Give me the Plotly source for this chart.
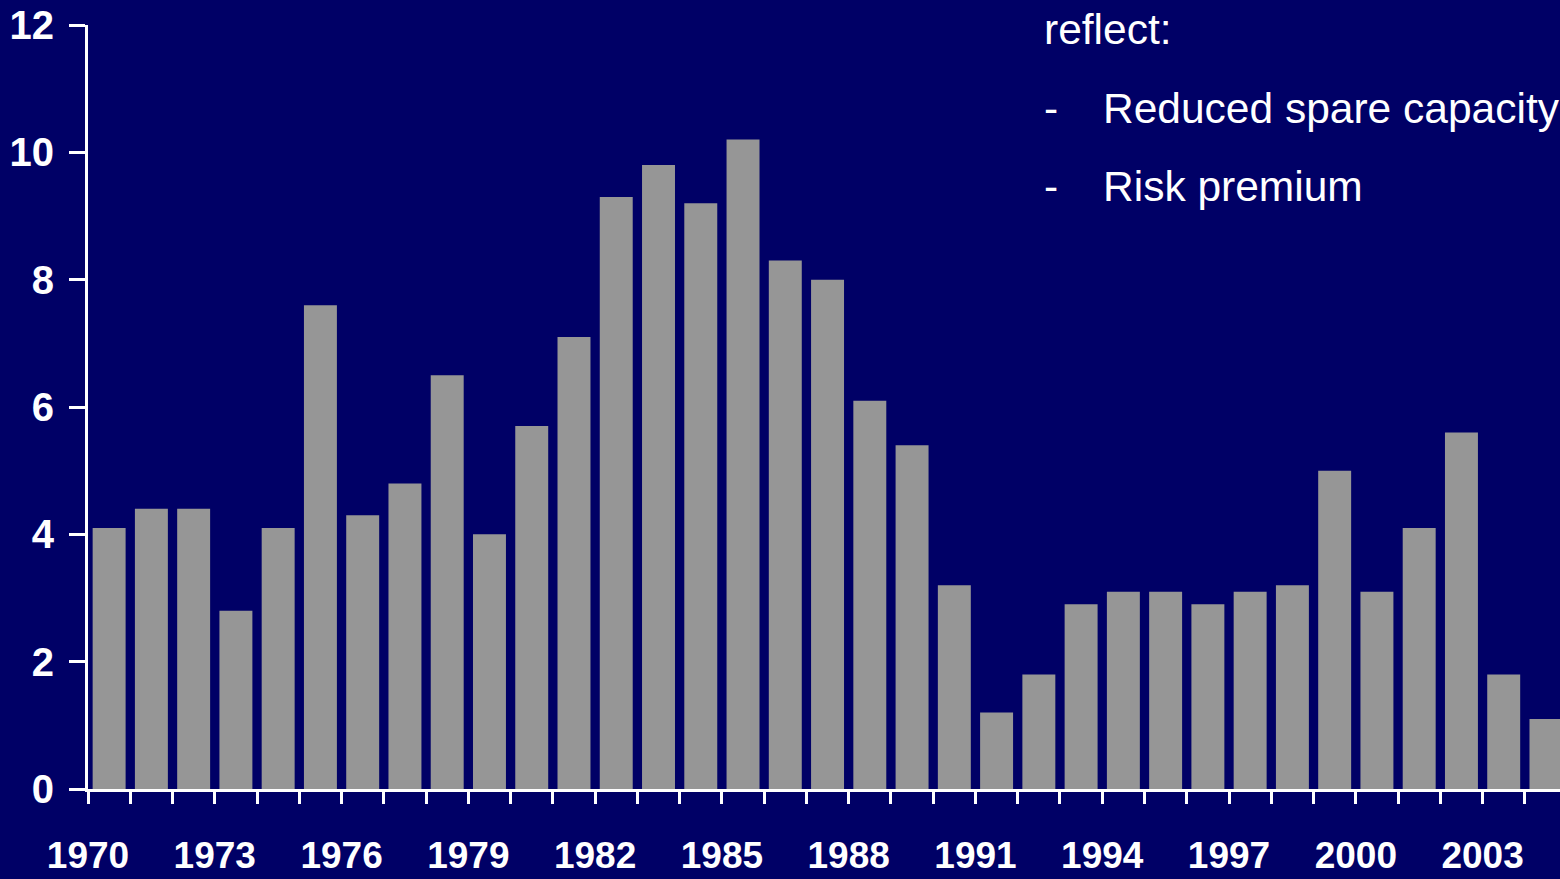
import plotly.graph_objects as go

years = list(range(1970, 2005))
values = [4.1, 4.4, 4.4, 2.8, 4.1, 7.6, 4.3, 4.8, 6.5, 4.0,
          5.7, 7.1, 9.3, 9.8, 9.2, 10.2, 8.3, 8.0, 6.1, 5.4,
          3.2, 1.2, 1.8, 2.9, 3.1, 3.1, 2.9, 3.1, 3.2, 5.0,
          3.1, 4.1, 5.6, 1.8, 1.1]
label_years = [1970, 1973, 1976, 1979, 1982, 1985, 1988, 1991, 1994, 1997, 2000, 2003]
y_ticks = [0, 2, 4, 6, 8, 10, 12]
note_lines = ["reflect:", "Reduced spare capacity", "Risk premium"]

BG = "#000066"
BAR = "#969696"
W, H = 1560, 879
L, R, T, B = 88, 0, 25, 90
pw, ph = W - L - R, H - T - B

def px_x(x):
    return (x - L) / pw

def px_y(y):
    return (H - B - y) / ph

tickvals = [y - 0.5 for y in years] + [years[-1] + 0.5]
ticktext = [str(y) if y in label_years else "" for y in years] + [""]

fig = go.Figure(go.Bar(x=years, y=values, marker=dict(color=BAR, line=dict(width=0)),
                       width=0.78))

fig.update_layout(
    width=W, height=H,
    paper_bgcolor=BG, plot_bgcolor=BG,
    margin=dict(l=L, r=R, t=T, b=B),
    showlegend=False,
    font=dict(family="Arial, Liberation Sans, sans-serif", color="white"),
)
fig.update_xaxes(
    automargin=False,
    range=[1969.5, 1969.5 + pw / 42.26],
    tickmode="array", tickvals=tickvals, ticktext=ticktext,
    ticks="outside", ticklen=12, tickwidth=2.5, tickcolor="white",
    showline=True, linecolor="white", linewidth=3,
    showgrid=False, zeroline=False,
    tickfont=dict(size=37, color="white", family="Arial, Liberation Sans, sans-serif", weight="bold"),
    ticklabelstandoff=20,
)
fig.update_yaxes(
    automargin=False,
    range=[0, 12], tickmode="array", tickvals=y_ticks,
    ticks="outside", ticklen=16, tickwidth=3, tickcolor="white",
    showline=True, linecolor="white", linewidth=3,
    showgrid=False, zeroline=False,
    tickfont=dict(size=40, color="white", family="Arial, Liberation Sans, sans-serif", weight="bold"),
    ticklabelstandoff=7,
)

centers = [30, 108, 186]
for i, (txt, cy) in enumerate(zip(note_lines, centers)):
    x0 = 1042 if i == 0 else 1101
    fig.add_annotation(x=px_x(x0), y=px_y(cy), xref="paper", yref="paper",
                       text=txt, showarrow=False, xanchor="left", yanchor="middle",
                       font=dict(size=42.5, color="white", family="Arial, Liberation Sans, sans-serif"))
    if i > 0:
        fig.add_annotation(x=px_x(1042), y=px_y(cy), xref="paper", yref="paper",
                           text="-", showarrow=False, xanchor="left", yanchor="middle",
                           font=dict(size=42.5, color="white", family="Arial, Liberation Sans, sans-serif"))

fig.write_html("out.html", config={"displayModeBar": False},
               post_script="document.body.style.margin='0';document.body.style.background='#000066';")
